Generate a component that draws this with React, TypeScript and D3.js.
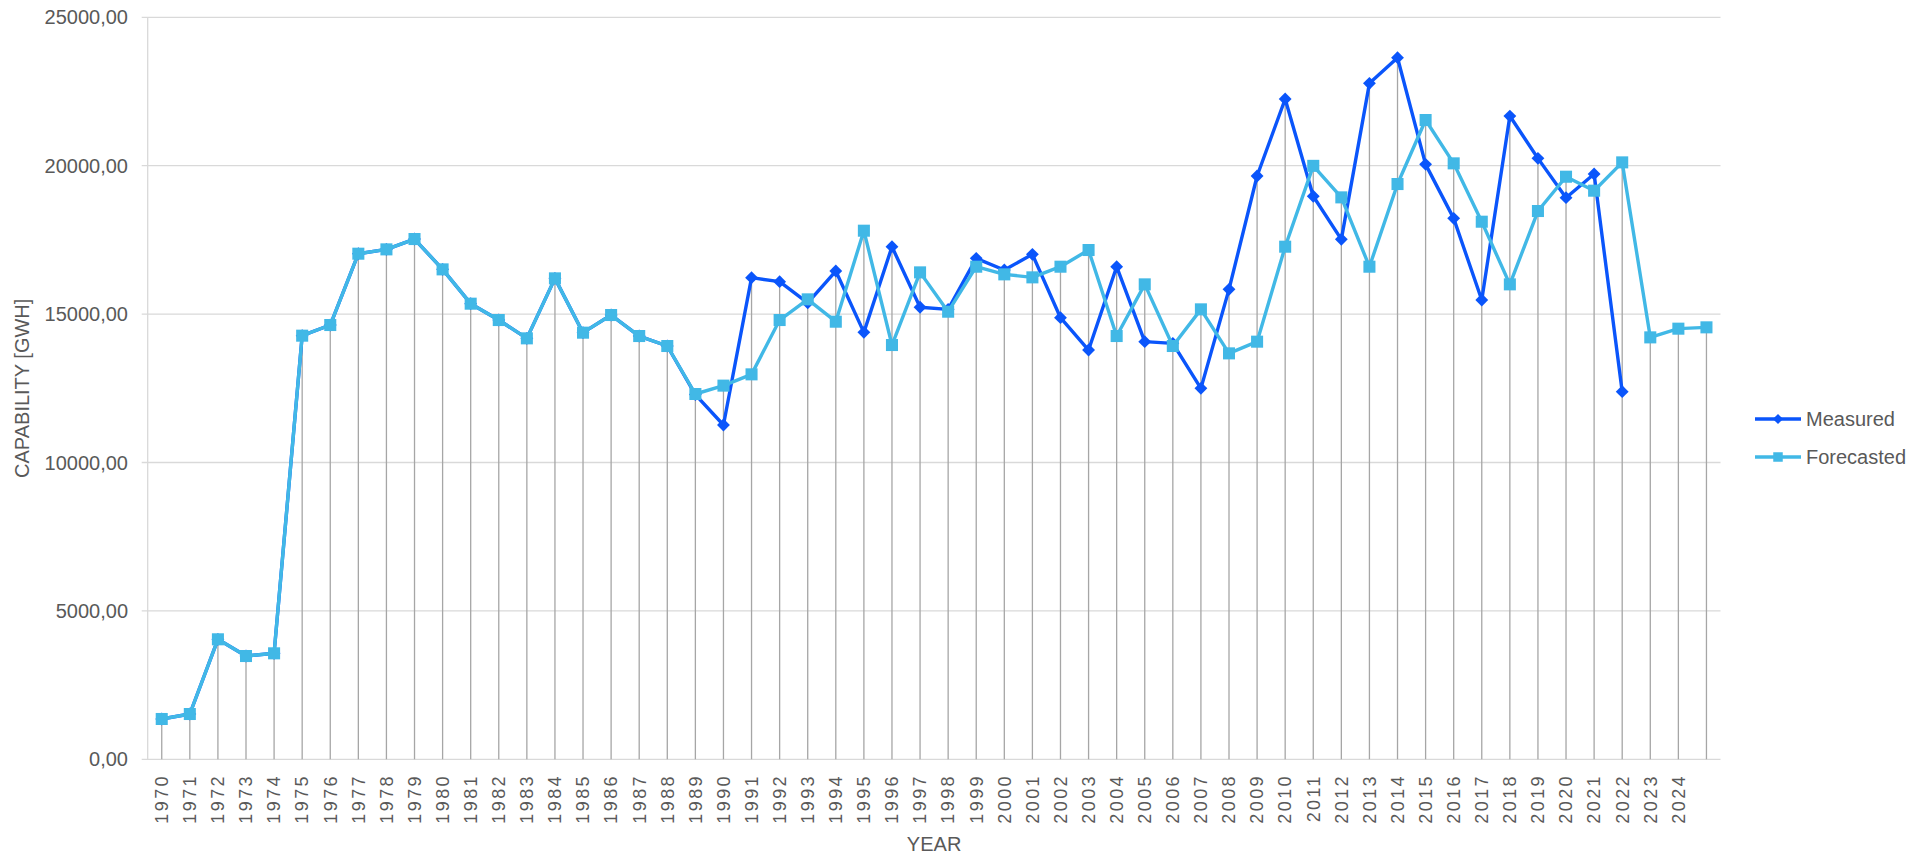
import React, { useRef, useEffect } from 'react';
import * as d3 from 'd3';

// categories (last slot has no label in the source chart)
const years = [
  '1970', '1971', '1972', '1973', '1974', '1975', '1976', '1977', '1978', '1979',
  '1980', '1981', '1982', '1983', '1984', '1985', '1986', '1987', '1988', '1989',
  '1990', '1991', '1992', '1993', '1994', '1995', '1996', '1997', '1998', '1999',
  '2000', '2001', '2002', '2003', '2004', '2005', '2006', '2007', '2008', '2009',
  '2010', '2011', '2012', '2013', '2014', '2015', '2016', '2017', '2018', '2019',
  '2020', '2021', '2022', '2023', '2024', '',
];

const measured: (number | null)[] = [
  1358, 1526, 4043, 3480, 3571, 14273, 14632, 17035, 17181, 17529,
  16507, 15351, 14800, 14183, 16204, 14374, 14969, 14261, 13925, 12290,
  11263, 16227, 16092, 15380, 16451, 14385, 17271, 15230, 15160, 16878,
  16485, 17013, 14879, 13790, 16597, 14071, 14014, 12498, 15834, 19652,
  22246, 18970, 17518, 22774, 23639, 20045, 18226, 15474, 21673, 20247,
  18922, 19719, 12386, null, null, null,
];

const forecasted: (number | null)[] = [
  1358, 1526, 4043, 3480, 3571, 14273, 14632, 17035, 17181, 17529,
  16507, 15351, 14800, 14183, 16204, 14374, 14969, 14261, 13925, 12308,
  12590, 12970, 14800, 15497, 14744, 17810, 13958, 16406, 15081, 16597,
  16339, 16238, 16597, 17159, 14261, 16002, 13925, 15160, 13677, 14071,
  17271, 19995, 18933, 16597, 19382, 21539, 20079, 18113, 16002, 18473,
  19629, 19158, 20112, 14216, 14509, 14554,
];

const yTicks = [0, 5000, 10000, 15000, 20000, 25000];

const seriesNames = ['Measured', 'Forecasted'];
const seriesColors = ['#0a55fb', '#41b8e6'];

const FONT = '"Liberation Sans", Arial, sans-serif';
const TEXT = '#595959';

const CapabilityChart = () => {
  const svgRef = useRef<SVGSVGElement>(null);

  useEffect(() => {
    if (!svgRef.current) return;
    d3.select(svgRef.current).selectAll('*').remove();

    const width = 1923;
    const height = 856;
    const margin = { top: 17.3, right: 202.5, bottom: 96.7, left: 147.7 };

    const svg = d3.select(svgRef.current)
      .attr('width', width)
      .attr('height', height)
      .style('background', 'white');

    const x = d3.scaleBand<number>()
      .domain(d3.range(years.length))
      .range([margin.left, width - margin.right])
      .padding(0);
    const cx = (i: number) => (x(i) as number) + x.bandwidth() / 2;

    const y = d3.scaleLinear()
      .domain([0, 25000])
      .range([height - margin.bottom, margin.top]);

    const fmt = (v: number) => d3.format('.2f')(v).replace('.', ',');

    // gridlines (stick out a bit left of the axis as tick marks)
    svg.append('g')
      .selectAll('line')
      .data(yTicks)
      .enter()
      .append('line')
      .attr('x1', margin.left - 6)
      .attr('x2', width - margin.right)
      .attr('y1', d => y(d))
      .attr('y2', d => y(d))
      .attr('stroke', '#d9d9d9')
      .attr('stroke-width', 1.3);

    svg.append('line')
      .attr('x1', margin.left)
      .attr('x2', margin.left)
      .attr('y1', y(25000))
      .attr('y2', y(0))
      .attr('stroke', '#d9d9d9')
      .attr('stroke-width', 1.3);

    // y tick labels
    svg.append('g')
      .selectAll('text')
      .data(yTicks)
      .enter()
      .append('text')
      .attr('x', 128)
      .attr('y', d => y(d))
      .attr('dy', '0.35em')
      .attr('text-anchor', 'end')
      .style('font-family', FONT)
      .style('font-size', '20px')
      .attr('fill', TEXT)
      .text(d => fmt(d));

    // drop lines from the highest point down to zero
    svg.append('g')
      .selectAll('line')
      .data(years.map((_, i) => i))
      .enter()
      .append('line')
      .attr('x1', d => cx(d))
      .attr('x2', d => cx(d))
      .attr('y1', d => y(Math.max(measured[d] ?? 0, forecasted[d] ?? 0)))
      .attr('y2', y(0))
      .attr('stroke', '#a6a6a6')
      .attr('stroke-width', 1.3);

    // x labels, rotated
    svg.append('g')
      .selectAll('text')
      .data(years.map((_, i) => i))
      .enter()
      .append('text')
      .attr('transform', d => `translate(${cx(d)},774) rotate(-90)`)
      .attr('dy', '0.35em')
      .attr('text-anchor', 'end')
      .style('font-family', FONT)
      .style('font-size', '18px')
      .style('letter-spacing', '2.4px')
      .attr('fill', TEXT)
      .text(d => years[d]);

    // axis titles
    svg.append('text')
      .attr('x', (margin.left + width - margin.right) / 2)
      .attr('y', 851)
      .attr('text-anchor', 'middle')
      .style('font-family', FONT)
      .style('font-size', '20px')
      .attr('fill', TEXT)
      .text('YEAR');

    svg.append('text')
      .attr('transform', `translate(29,${(y(0) + y(25000)) / 2}) rotate(-90)`)
      .attr('text-anchor', 'middle')
      .style('font-family', FONT)
      .style('font-size', '20px')
      .attr('fill', TEXT)
      .text('CAPABILITY [GWH]');

    const line = d3.line<number | null>()
      .defined(d => d != null)
      .x((d, i) => cx(i))
      .y(d => y(d as number));

    const diamond = d3.symbol().type(d3.symbolDiamond2).size(105);
    const square = d3.symbol().type(d3.symbolSquare2).size(185);

    // Measured (drawn first, forecasted sits on top)
    svg.append('path')
      .datum(measured)
      .attr('d', line)
      .attr('fill', 'none')
      .attr('stroke', seriesColors[0])
      .attr('stroke-width', 3.4)
      .attr('stroke-linejoin', 'round');

    svg.append('g')
      .selectAll('path')
      .data(measured.map((v, i) => ({ v, i })).filter(d => d.v != null))
      .enter()
      .append('path')
      .attr('transform', d => `translate(${cx(d.i)},${y(d.v as number)})`)
      .attr('d', diamond)
      .attr('fill', seriesColors[0]);

    svg.append('path')
      .datum(forecasted)
      .attr('d', line)
      .attr('fill', 'none')
      .attr('stroke', seriesColors[1])
      .attr('stroke-width', 3.4)
      .attr('stroke-linejoin', 'round');

    svg.append('g')
      .selectAll('path')
      .data(forecasted.map((v, i) => ({ v, i })).filter(d => d.v != null))
      .enter()
      .append('path')
      .attr('transform', d => `translate(${cx(d.i)},${y(d.v as number)})`)
      .attr('d', square)
      .attr('fill', seriesColors[1]);

    // legend
    const legend = svg.append('g');
    seriesNames.forEach((name, k) => {
      const ly = 419 + k * 38;
      legend.append('line')
        .attr('x1', 1755)
        .attr('x2', 1801)
        .attr('y1', ly)
        .attr('y2', ly)
        .attr('stroke', seriesColors[k])
        .attr('stroke-width', 3.4);
      legend.append('path')
        .attr('transform', `translate(1778,${ly})`)
        .attr('d', (k === 0 ? d3.symbol().type(d3.symbolDiamond2).size(66) : d3.symbol().type(d3.symbolSquare2).size(115))())
        .attr('fill', seriesColors[k]);
      legend.append('text')
        .attr('x', 1806)
        .attr('y', ly)
        .attr('dy', '0.35em')
        .style('font-family', FONT)
        .style('font-size', '20px')
        .attr('fill', TEXT)
        .text(name);
    });
  }, []);

  return <svg ref={svgRef} style={{ position: 'absolute', left: 0, top: 0, display: 'block' }} />;
};

export default function App() {
  return <CapabilityChart />;
}
